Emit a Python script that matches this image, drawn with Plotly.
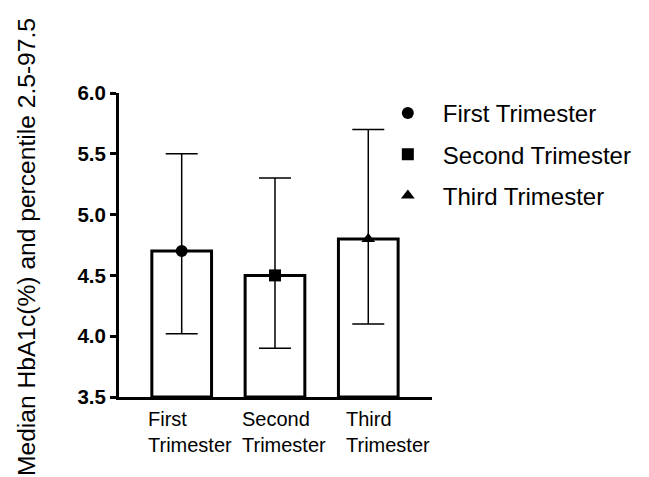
import plotly.graph_objects as go

categories = ["First<br>Trimester", "Second<br>Trimester", "Third<br>Trimester"]
legend_names = ["First Trimester", "Second Trimester", "Third Trimester"]
medians = [4.7, 4.5, 4.8]
lower = [4.02, 3.9, 4.1]
upper = [5.5, 5.3, 5.7]
symbols = ["circle", "square", "triangle-up"]
y_ticks = [3.5, 4.0, 4.5, 5.0, 5.5, 6.0]
y_title = "Median HbA1c(%) and percentile 2.5-97.5"

xs = list(range(len(categories)))
bar_bottom = 3.5

fig = go.Figure()
fig.add_trace(go.Bar(
    x=xs,
    y=[m - bar_bottom for m in medians],
    base=bar_bottom,
    width=0.64,
    marker=dict(color="white", line=dict(color="black", width=3)),
    error_y=dict(type="data", symmetric=False,
                 array=[u - m for u, m in zip(upper, medians)],
                 arrayminus=[m - l for m, l in zip(medians, lower)],
                 color="black", thickness=1.5, width=16),
    showlegend=False, hoverinfo="skip",
))
for i in xs:
    fig.add_trace(go.Scatter(
        x=[i], y=[medians[i]], mode="markers", name=legend_names[i],
        legendgroup=f"g{i}",
        marker=dict(symbol=symbols[i], color="black", size=12),
    ))

label_shift = [-36, -35, -24]
for i in xs:
    fig.add_annotation(x=i, y=0, xref="x", yref="paper", text=categories[i],
                       xanchor="left", yanchor="top", align="left",
                       xshift=label_shift[i], yshift=-9, showarrow=False,
                       font=dict(family="Arial, Liberation Sans", size=20, color="black"))

fig.add_annotation(x=0, y=0.5, xref="paper", yref="paper", text=y_title,
                   textangle=-90, xanchor="center", yanchor="middle",
                   xshift=-93, yshift=-2, showarrow=False,
                   font=dict(family="Arial, Liberation Sans", size=24.6, color="black"))

fig.update_layout(
    width=649, height=477,
    margin=dict(l=119, r=217, t=93, b=80),
    paper_bgcolor="white", plot_bgcolor="white",
    font=dict(family="Arial, Liberation Sans", color="black"),
    legend=dict(x=0.811, y=1.0066, xanchor="left", yanchor="top",
                font=dict(size=24, color="black"), tracegroupgap=7,
                itemwidth=60, bgcolor="rgba(0,0,0,0)"),
    xaxis=dict(range=[-0.672, 2.683], showticklabels=False, ticks="",
               showline=True, linecolor="black", linewidth=3,
               showgrid=False, zeroline=False, fixedrange=True),
    yaxis=dict(range=[3.5, 6.0], tickvals=y_ticks,
               ticktext=[f"<b>{v:.1f}</b>" for v in y_ticks],
               tickfont=dict(size=20.5, color="black"),
               ticks="outside", ticklen=6, tickwidth=3, tickcolor="black",
               showline=True, linecolor="black", linewidth=3,
               showgrid=False, zeroline=False, fixedrange=True),
)

fig.write_html("out.html", config={"displayModeBar": False, "staticPlot": True},
               post_script="document.body.style.margin='0';document.body.style.padding='0';")
